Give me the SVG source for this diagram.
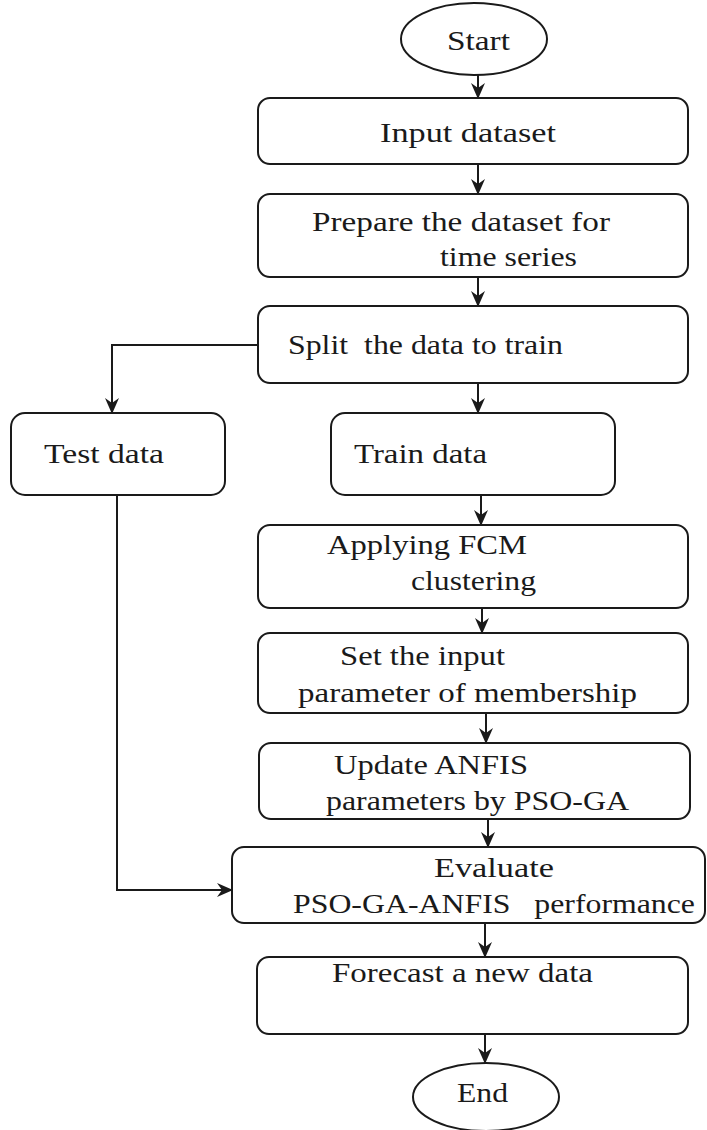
<svg xmlns="http://www.w3.org/2000/svg" width="707" height="1130" viewBox="0 0 707 1130">
<style>
.box{fill:#fff;stroke:#1a1a1a;stroke-width:2}
.t{font-family:"Liberation Serif","Times New Roman",serif;font-size:27px;fill:#1a1a1a}
.c{fill:none;stroke:#1a1a1a;stroke-width:2}
</style>
<defs>
<marker id="ah" markerUnits="userSpaceOnUse" markerWidth="16" markerHeight="16" viewBox="0 0 16 16" refX="15" refY="8" orient="auto">
<path d="M0,1 L16,8 L0,15 L5,8 z" fill="#1a1a1a"/>
</marker>
</defs>
<rect width="707" height="1130" fill="#fff"/>
<g id="connectors">
<line class="c" x1="478" y1="75" x2="478" y2="98" marker-end="url(#ah)"/>
<line class="c" x1="478" y1="164" x2="478" y2="194" marker-end="url(#ah)"/>
<line class="c" x1="478" y1="277" x2="478" y2="306" marker-end="url(#ah)"/>
<polyline class="c" points="258,345 112,345 112,413" marker-end="url(#ah)"/>
<line class="c" x1="478" y1="383" x2="478" y2="413" marker-end="url(#ah)"/>
<line class="c" x1="481" y1="495" x2="481" y2="525" marker-end="url(#ah)"/>
<line class="c" x1="482" y1="608" x2="482" y2="633" marker-end="url(#ah)"/>
<line class="c" x1="486" y1="713" x2="486" y2="743" marker-end="url(#ah)"/>
<line class="c" x1="488" y1="819" x2="488" y2="847" marker-end="url(#ah)"/>
<polyline class="c" points="117,495 117,890 232,890" marker-end="url(#ah)"/>
<line class="c" x1="485" y1="923" x2="485" y2="957" marker-end="url(#ah)"/>
<line class="c" x1="485" y1="1034" x2="485" y2="1063" marker-end="url(#ah)"/>
</g>
<g id="start">
<ellipse class="box" cx="474" cy="39" rx="73" ry="36"/>
<text class="t" x="447" y="50" textLength="63" lengthAdjust="spacingAndGlyphs">Start</text>
</g>
<g id="input">
<rect class="box" x="258" y="98" width="430" height="66" rx="12"/>
<text class="t" x="380" y="142" textLength="176" lengthAdjust="spacingAndGlyphs">Input dataset</text>
</g>
<g id="prepare">
<rect class="box" x="258" y="194" width="430" height="83" rx="12"/>
<text class="t" x="312" y="231" textLength="298" lengthAdjust="spacingAndGlyphs">Prepare the dataset for</text>
<text class="t" x="440" y="266" textLength="137" lengthAdjust="spacingAndGlyphs">time series</text>
</g>
<g id="split">
<rect class="box" x="258" y="306" width="430" height="77" rx="12"/>
<text class="t" x="288" y="354" textLength="275" lengthAdjust="spacingAndGlyphs" xml:space="preserve">Split  the data to train</text>
</g>
<g id="test">
<rect class="box" x="11" y="413" width="214" height="82" rx="14"/>
<text class="t" x="44" y="463" textLength="120" lengthAdjust="spacingAndGlyphs">Test data</text>
</g>
<g id="train">
<rect class="box" x="331" y="413" width="284" height="82" rx="14"/>
<text class="t" x="354" y="463" textLength="133" lengthAdjust="spacingAndGlyphs">Train data</text>
</g>
<g id="fcm">
<rect class="box" x="258" y="525" width="430" height="83" rx="12"/>
<text class="t" x="327" y="554" textLength="200" lengthAdjust="spacingAndGlyphs">Applying FCM</text>
<text class="t" x="411" y="590" textLength="125" lengthAdjust="spacingAndGlyphs">clustering</text>
</g>
<g id="setinput">
<rect class="box" x="258" y="633" width="430" height="80" rx="12"/>
<text class="t" x="340" y="665" textLength="165" lengthAdjust="spacingAndGlyphs">Set the input</text>
<text class="t" x="298" y="702" textLength="339" lengthAdjust="spacingAndGlyphs">parameter of membership</text>
</g>
<g id="update">
<rect class="box" x="259" y="743" width="431" height="76" rx="12"/>
<text class="t" x="334" y="774" textLength="194" lengthAdjust="spacingAndGlyphs">Update ANFIS</text>
<text class="t" x="326" y="810" textLength="303" lengthAdjust="spacingAndGlyphs">parameters by PSO-GA</text>
</g>
<g id="evaluate">
<rect class="box" x="232" y="847" width="473" height="76" rx="12"/>
<text class="t" x="434" y="877" textLength="120" lengthAdjust="spacingAndGlyphs">Evaluate</text>
<text class="t" x="293" y="913" textLength="402" lengthAdjust="spacingAndGlyphs" xml:space="preserve">PSO-GA-ANFIS   performance</text>
</g>
<g id="forecast">
<rect class="box" x="257" y="957" width="431" height="77" rx="12"/>
<text class="t" x="332" y="982" textLength="261" lengthAdjust="spacingAndGlyphs">Forecast a new data</text>
</g>
<g id="end">
<ellipse class="box" cx="486" cy="1097" rx="73" ry="34"/>
<text class="t" x="457" y="1102" textLength="51" lengthAdjust="spacingAndGlyphs">End</text>
</g>
</svg>
